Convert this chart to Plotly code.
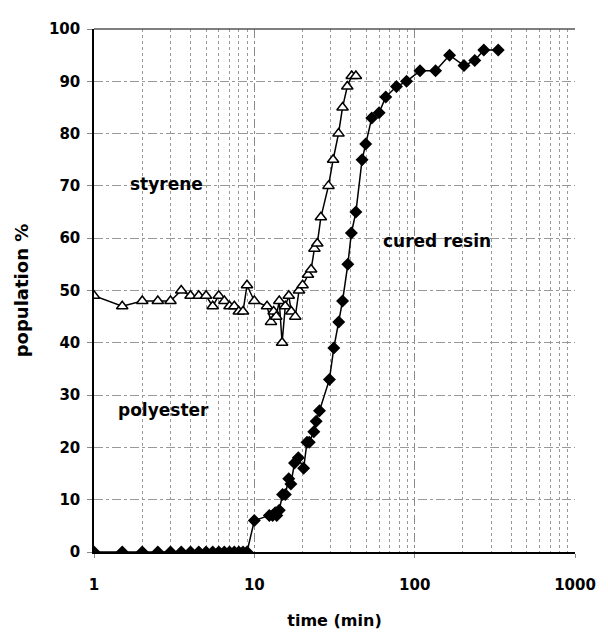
import numpy as np
import plotly.graph_objects as go

# ---- data ----
styrene_time = [1, 1.5, 2, 2.5, 3, 3.5, 4, 4.5, 5, 5.5, 6, 6.5, 7, 7.5, 8, 8.5, 9, 10,
                12, 12.7, 13.2, 13.7, 14.3, 14.9, 15.6, 16.4, 17, 18, 19, 20, 21.6, 22.6,
                23.7, 24.7, 26, 29, 31, 33.5, 35.5, 38, 40.5, 43]
styrene_pct = [49, 47, 48, 48, 48, 50, 49, 49, 49, 47, 49, 48, 47, 47, 46, 46, 51, 48,
               47, 44, 46, 45, 48, 40, 47, 49, 46, 45, 50, 51, 53, 54,
               58, 59, 64, 70, 75, 80, 85, 89, 91, 91]

cured_time = [1, 1.5, 2, 2.5, 3, 3.5, 4, 4.5, 5, 5.5, 6, 6.5, 7, 7.5, 8, 8.5, 9, 10,
              12.4, 13, 13.5, 13.8, 14.3, 15, 15.6, 16.4, 16.9, 17.8, 18.8, 20.3, 21.3,
              22, 23.5, 24.3, 25.5, 29.4, 31.3, 33.6, 35.5, 38.3, 40.3, 43, 47, 49.5,
              54, 60, 66, 77, 89, 108, 135, 165, 203, 237, 270, 332]
cured_pct = [0, 0, 0, 0, 0, 0, 0, 0, 0, 0, 0, 0, 0, 0, 0, 0, 0, 6,
             7, 7, 7.5, 7, 8, 11, 11, 14, 13, 17, 18, 16, 21,
             21, 23, 25, 27, 33, 39, 44, 48, 55, 61, 65, 75, 78,
             83, 84, 87, 89, 90, 92, 92, 95, 93, 94, 96, 96]

x_major_ticks = [1, 10, 100, 1000]
x_minor_ticks = [m * d for d in (1, 10, 100) for m in range(2, 10)]
y_ticks = list(range(0, 101, 10))

labels = [("styrene", 2.84, 70.3), ("cured resin", 137, 59.4), ("polyester", 2.7, 27.1)]

FONT = "DejaVu Sans"

fig = go.Figure()
fig.add_trace(go.Scatter(
    x=cured_time, y=cured_pct, mode="lines+markers", name="cured resin",
    line=dict(color="black", width=1.5),
    marker=dict(symbol="diamond", size=10, color="black"),
))
fig.add_trace(go.Scatter(
    x=styrene_time, y=styrene_pct, mode="lines+markers", name="styrene",
    line=dict(color="black", width=1.5),
    marker=dict(symbol="triangle-up", size=10, color="white",
                line=dict(color="black", width=1.5)),
))

for txt, xv, yv in labels:
    fig.add_annotation(x=np.log10(xv), y=yv, xref="x", yref="y", text=txt,
                       showarrow=False,
                       font=dict(family=FONT, size=17, color="black", weight="bold"))

# top border
fig.add_shape(type="line", xref="paper", yref="paper", x0=0, x1=1, y0=1, y1=1,
              line=dict(color="#555", width=1.5))

# page body has an 8px margin, so the figure is sized/offset to compensate
fig.update_layout(
    width=600, height=631,
    margin=dict(l=86, r=28, t=12, b=84),
    paper_bgcolor="white", plot_bgcolor="white",
    showlegend=False,
    font=dict(family=FONT, color="black"),
    xaxis=dict(
        type="log", range=[0, 3],
        tickmode="array", tickvals=x_major_ticks, ticktext=[str(v) for v in x_major_ticks],
        tickfont=dict(family=FONT, size=15, color="black", weight="bold"),
        ticks="outside", ticklen=4, tickcolor="#888", ticklabelstandoff=14,
        ticklabeloverflow="allow",
        showgrid=True, gridcolor="#888", gridwidth=1, griddash="dashdot",
        minor=dict(tickmode="array", tickvals=x_minor_ticks, showgrid=True,
                   gridcolor="#999", gridwidth=1, griddash="dot", ticks=""),
        showline=True, linecolor="black", linewidth=1.5,
        zeroline=False,
        title=dict(text="time (min)", standoff=22,
                   font=dict(family=FONT, size=16, color="black", weight="bold")),
    ),
    yaxis=dict(
        range=[0, 100], tickmode="array", tickvals=y_ticks,
        tickfont=dict(family=FONT, size=15, color="black", weight="bold"),
        ticks="outside", ticklen=5, tickcolor="#888", ticklabelstandoff=4,
        showgrid=True, gridcolor="#999", gridwidth=1, griddash="dashdot",
        showline=True, linecolor="black", linewidth=1.5,
        zeroline=False,
        title=dict(text="population %", standoff=16,
                   font=dict(family=FONT, size=18, color="black", weight="bold")),
    ),
)

fig.write_html("out.html")
